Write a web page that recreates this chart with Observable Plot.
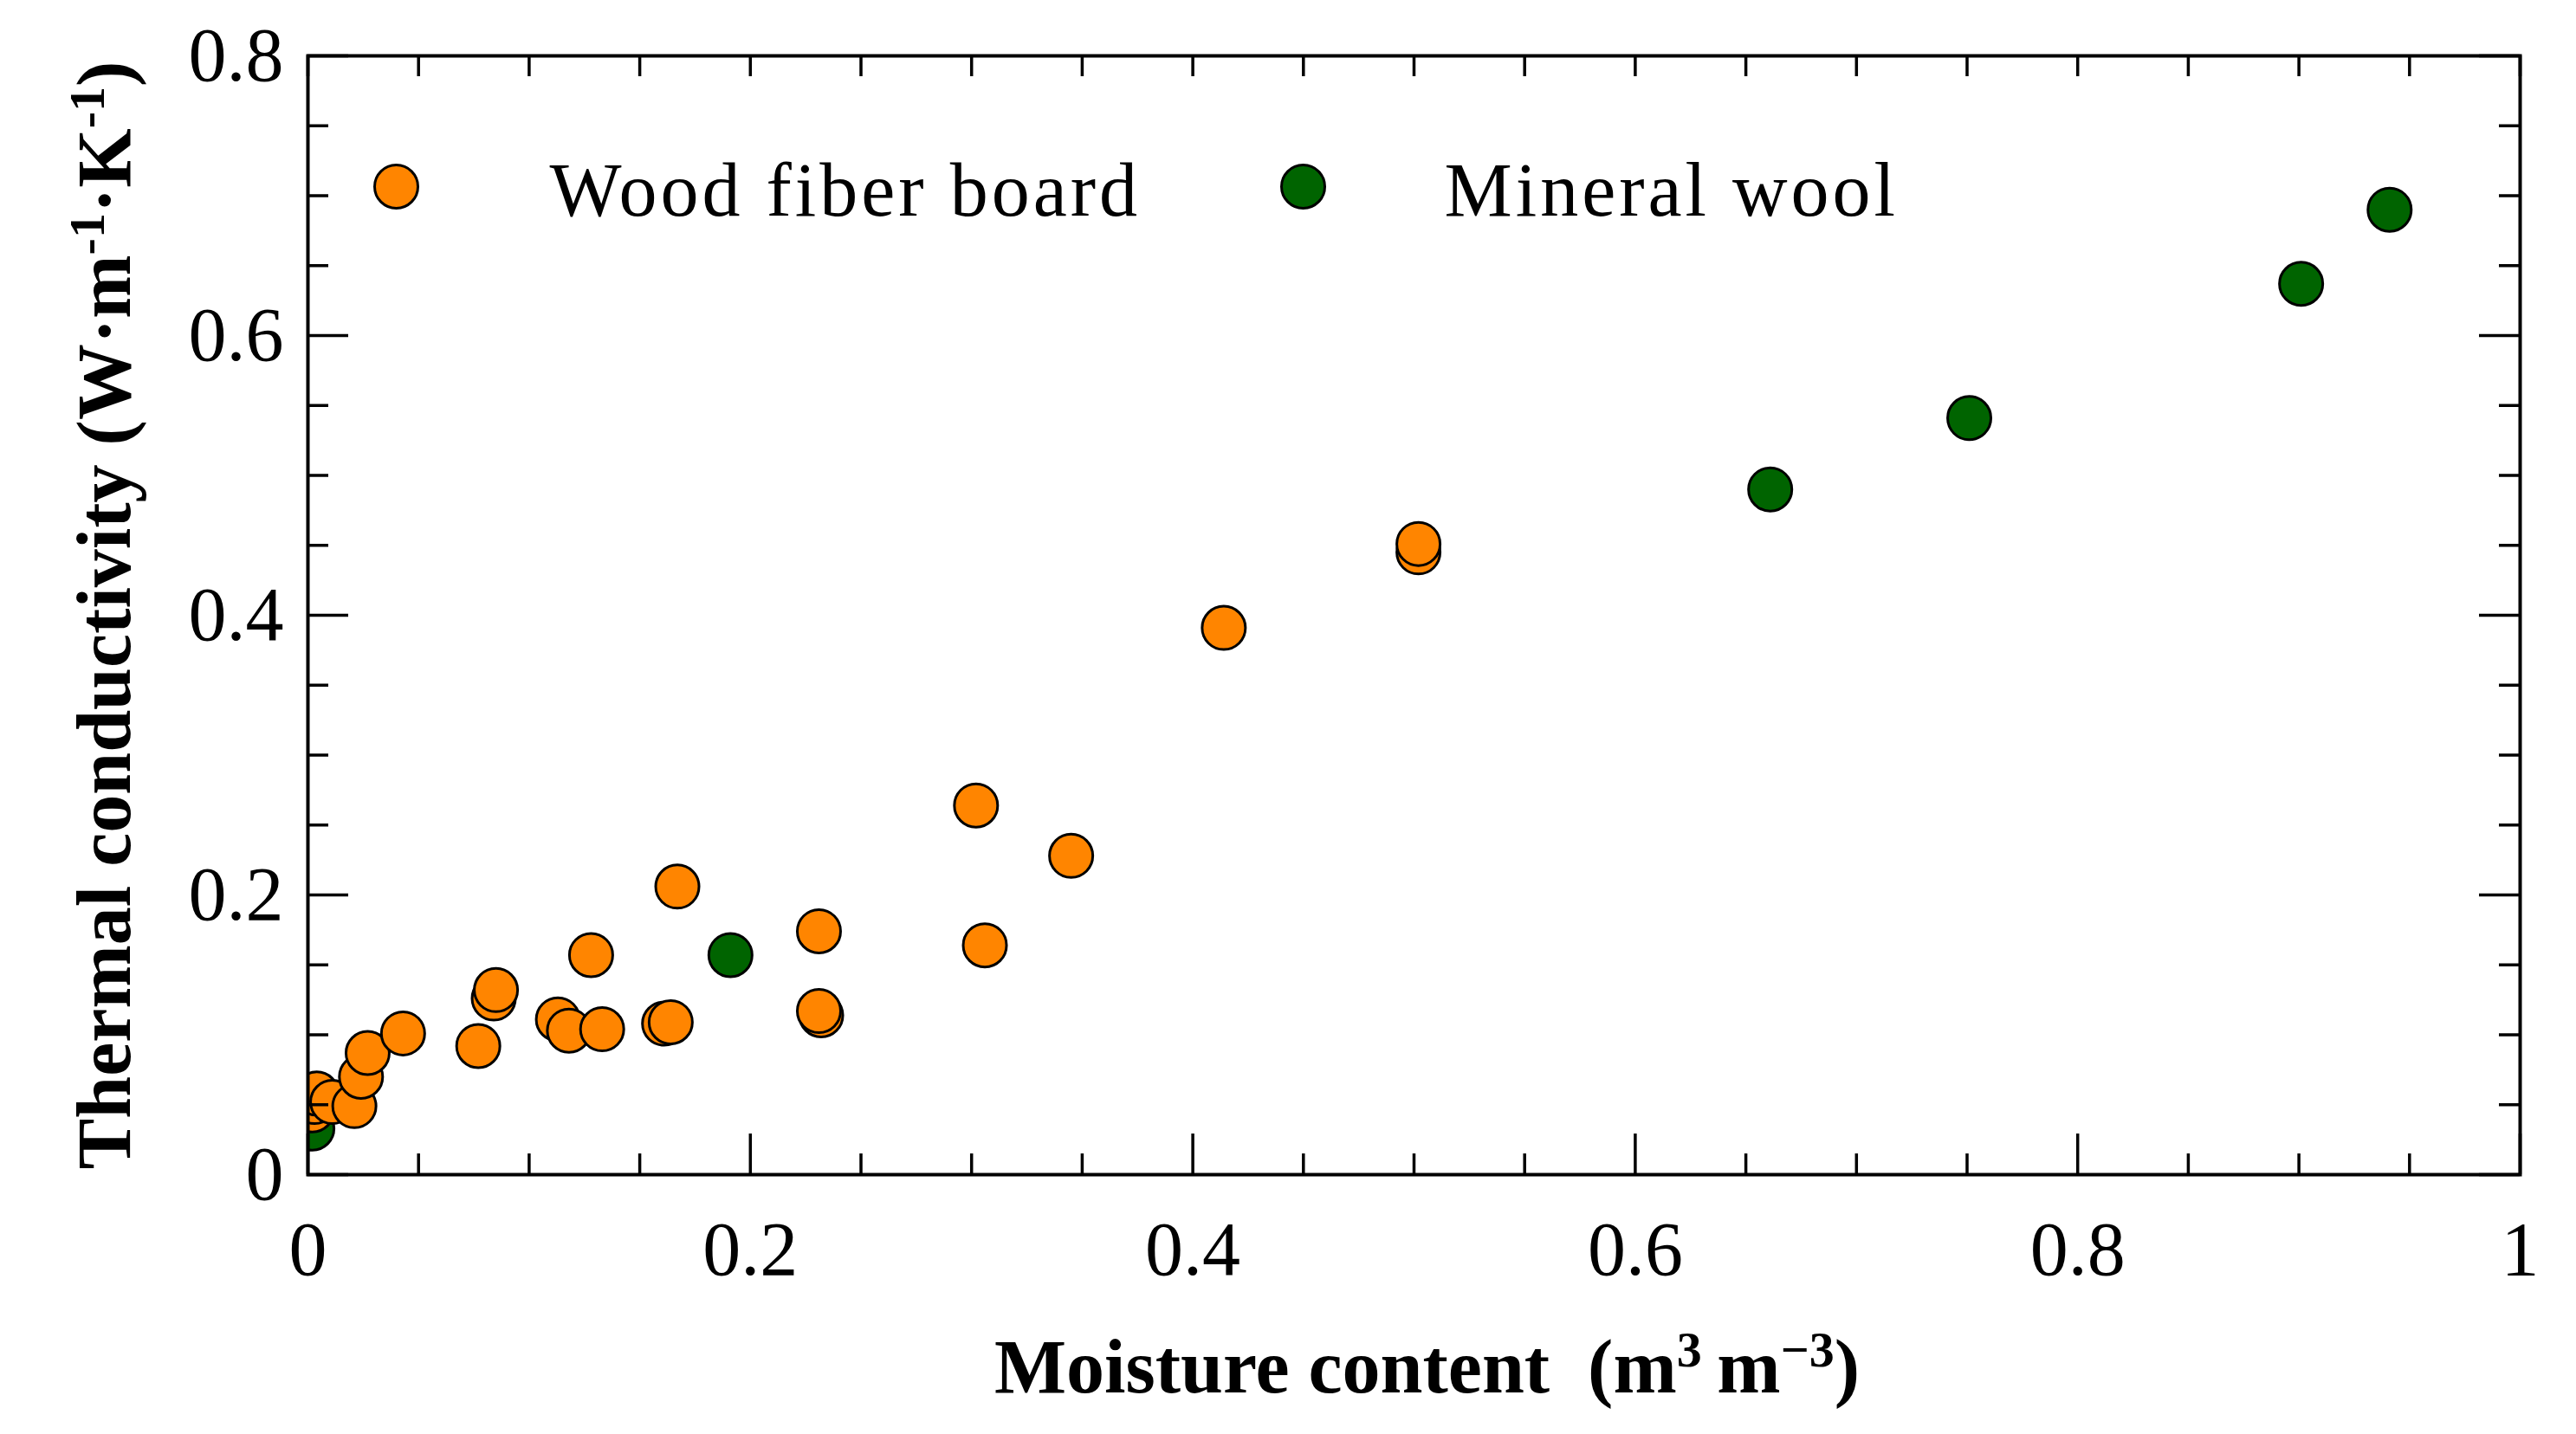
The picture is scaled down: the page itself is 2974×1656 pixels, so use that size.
<!DOCTYPE html>
<html>
<head>
<meta charset="utf-8">
<script src="https://cdn.jsdelivr.net/npm/d3@7"></script>
<script src="https://cdn.jsdelivr.net/npm/@observablehq/plot@0.6"></script>
<style>
  html, body { margin: 0; padding: 0; background: #fff; }
  svg { display: block; }
</style>
</head>
<body>
<div id="chart"></div>
<script>
// ---- data ----
const seriesNames = ["Wood fiber board", "Mineral wool"];
const seriesColors = ["#ff8500", "#006400"];

const woodX = [0.002, 0.003, 0.004, 0.011, 0.021, 0.024, 0.027, 0.043, 0.077, 0.084, 0.085,
               0.113, 0.118, 0.133, 0.128, 0.161, 0.164, 0.167, 0.231, 0.232, 0.231,
               0.302, 0.306, 0.345, 0.414, 0.502, 0.502];
const woodY = [0.046, 0.052, 0.058, 0.052, 0.049, 0.070, 0.087, 0.101, 0.092, 0.126, 0.132,
               0.111, 0.103, 0.104, 0.157, 0.108, 0.109, 0.206, 0.174, 0.114, 0.117,
               0.264, 0.164, 0.228, 0.391, 0.445, 0.451];

const woolX = [0.002, 0.191, 0.661, 0.751, 0.901, 0.941];
const woolY = [0.033, 0.157, 0.490, 0.541, 0.637, 0.690];

const xTicks = [0, 0.2, 0.4, 0.6, 0.8, 1];
const yTicks = [0, 0.2, 0.4, 0.6, 0.8];
const xTickLabels = ["0", "0.2", "0.4", "0.6", "0.8", "1"];
const yTickLabels = ["0", "0.2", "0.4", "0.6", "0.8"];
const xMinor = [0.05, 0.1, 0.15, 0.25, 0.3, 0.35, 0.45, 0.5, 0.55, 0.65, 0.7, 0.75, 0.85, 0.9, 0.95];
const yMinor = [0.05, 0.1, 0.15, 0.25, 0.3, 0.35, 0.45, 0.5, 0.55, 0.65, 0.7, 0.75];

// axis titles as [text, isSuperscript] parts
const xLabelParts = [["Moisture content\u00a0\u00a0(m", false], ["3", true], ["\u2009m", false], ["\u22123", true], [")", false]];
const yLabelParts = [["Thermal conductivity (W\u00b7m", false], ["-1", true], ["\u00b7K", false], ["-1", true], [")", false]];
const xLabel = xLabelParts.map(p => p[0]).join("");
const yLabel = yLabelParts.map(p => p[0]).join("");

// ---- build ----
const wood = woodX.map((x, i) => ({x, y: woodY[i]}));
const wool = woolX.map((x, i) => ({x, y: woolY[i]}));

const W = 2974, H = 1656;
const mL = 355, mR = 65, mT = 64, mB = 300;
const innerW = W - mL - mR, innerH = H - mT - mB;
const majorLen = 47, minorLen = 24;
const tk = {stroke: "black", strokeWidth: 3.5};
const fmtX = d => xTickLabels[xTicks.indexOf(d)];
const fmtY = d => yTickLabels[yTicks.indexOf(d)];
const dotStyle = {r: 25, stroke: "black", strokeWidth: 3};

const plot = Plot.plot({
  width: W,
  height: H,
  marginLeft: mL,
  marginRight: mR,
  marginTop: mT,
  marginBottom: mB,
  x: {domain: [0, 1]},
  y: {domain: [0, 0.8]},
  style: {fontFamily: "'Liberation Serif', serif", fontSize: "88px", background: "white", color: "black", overflow: "visible"},
  marks: [
    // data
    Plot.dot(wool, {x: "x", y: "y", fill: seriesColors[1], clip: true, ...dotStyle}),
    Plot.dot(wood, {x: "x", y: "y", fill: seriesColors[0], clip: true, ...dotStyle}),
    // inward ticks: bottom
    Plot.tickX(xTicks, {x: d => d, insetTop: innerH - majorLen, ...tk}),
    Plot.tickX(xMinor, {x: d => d, insetTop: innerH - minorLen, ...tk}),
    // top
    Plot.tickX(xTicks, {x: d => d, insetBottom: innerH - minorLen, ...tk}),
    Plot.tickX(xMinor, {x: d => d, insetBottom: innerH - minorLen, ...tk}),
    // left
    Plot.tickY(yTicks, {y: d => d, insetRight: innerW - majorLen, ...tk}),
    Plot.tickY(yMinor, {y: d => d, insetRight: innerW - minorLen, ...tk}),
    // right
    Plot.tickY(yTicks, {y: d => d, insetLeft: innerW - majorLen, ...tk}),
    Plot.tickY(yMinor, {y: d => d, insetLeft: innerW - minorLen, ...tk}),
    Plot.frame({stroke: "black", strokeWidth: 4}),
    // tick labels
    Plot.axisX(xTicks, {anchor: "bottom", tickSize: 0, tickPadding: 53, tickFormat: fmtX, label: null, fontSize: 88}),
    Plot.axisY(yTicks, {anchor: "left", tickSize: 0, tickPadding: 28, tickFormat: fmtY, label: null, fontSize: 88}),
    // axis titles
    Plot.text([xLabel], {text: d => d, frameAnchor: "bottom", textAnchor: "middle", lineAnchor: "middle", dx: 15, dy: 223, fontWeight: "bold", fontSize: 88}),
    Plot.text([yLabel], {text: d => d, frameAnchor: "left", textAnchor: "middle", lineAnchor: "middle", rotate: -90, dx: -234, fontWeight: "bold", fontSize: 88}),
    // legend
    Plot.dot([seriesNames[0]], {frameAnchor: "top-left", dx: 102, dy: 151, fill: seriesColors[0], ...dotStyle}),
    Plot.text([seriesNames[0]], {text: d => d, frameAnchor: "top-left", dx: 279, dy: 156, textAnchor: "start", lineAnchor: "middle", fontSize: 88}),
    Plot.dot([seriesNames[1]], {frameAnchor: "top-left", dx: 1149, dy: 151, fill: seriesColors[1], ...dotStyle}),
    Plot.text([seriesNames[1]], {text: d => d, frameAnchor: "top-left", dx: 1312, dy: 156, textAnchor: "start", lineAnchor: "middle", fontSize: 88})
  ]
});

// post-style texts: letter spacing for legend, superscripts for titles
function withSuperscripts(el, parts) {
  const sel = d3.select(el);
  sel.text(null);
  let raised = false;
  for (const [t, sup] of parts) {
    const ts = sel.append("tspan").text(t);
    if (sup) {
      ts.attr("dy", "-30").attr("font-size", "58");
      raised = true;
    } else if (raised) {
      ts.attr("dy", "30");
      raised = false;
    }
  }
}
d3.select(plot).selectAll("text").each(function () {
  const t = this.textContent;
  if (seriesNames.includes(t)) {
    this.setAttribute("letter-spacing", "4");
    this.style.letterSpacing = "4px";
  } else if (t === xLabel) {
    withSuperscripts(this, xLabelParts);
  } else if (t === yLabel) {
    withSuperscripts(this, yLabelParts);
  }
});
document.getElementById("chart").appendChild(plot);
</script>
</body>
</html>
